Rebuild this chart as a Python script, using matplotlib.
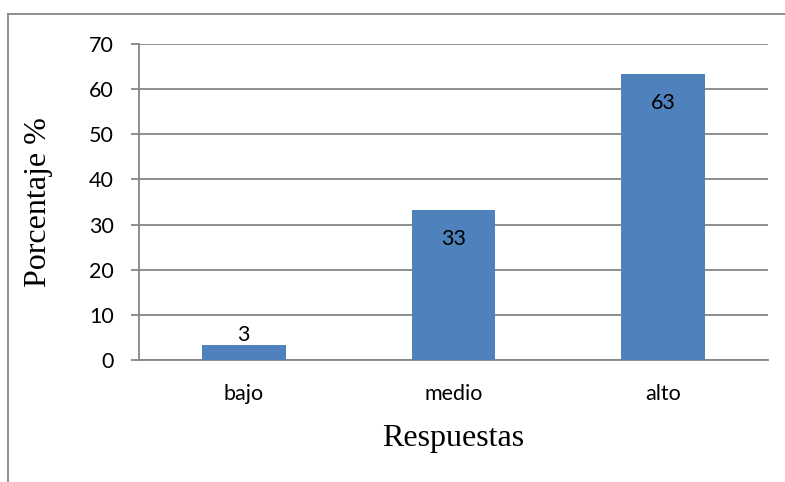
import matplotlib
matplotlib.use("Agg")
import matplotlib.pyplot as plt
from matplotlib.lines import Line2D

categories = ["bajo", "medio", "alto"]
values = [3.33, 33.33, 63.33]
labels = ["3", "33", "63"]
yticks = [0, 10, 20, 30, 40, 50, 60, 70]

W, H = 785, 482
fig = plt.figure(figsize=(W / 100, H / 100), dpi=100)
ax = fig.add_axes([139 / W, 1 - 360 / H, (768 - 139) / W, (360 - 44) / H])

grid_c = "#868686"
bar_c = "#4F81BD"
tick_font = "Lato"
fs = 15.5

x = list(range(len(categories)))
ax.bar(x, values, width=0.4, color=bar_c, zorder=3)
ax.set_xlim(-0.5, len(categories) - 0.5)
ax.set_ylim(0, 70)
ax.set_yticks(yticks)
ax.set_yticklabels([str(t) for t in yticks], fontsize=fs, family=tick_font)
ax.set_xticks(x)
ax.set_xticklabels(categories, fontsize=fs, family=tick_font)
ax.yaxis.grid(True, color=grid_c, linewidth=1.3, zorder=0)
ax.set_axisbelow(True)
for s in ["top", "right"]:
    ax.spines[s].set_visible(False)
for s in ["left", "bottom"]:
    ax.spines[s].set_color(grid_c)
    ax.spines[s].set_linewidth(1.3)
ax.tick_params(axis="y", length=6, color=grid_c, width=1.3, pad=12)
ax.tick_params(axis="x", length=0, pad=17)

for xi, v, lab in zip(x, values, labels):
    if v < 10:
        ax.annotate(lab, (xi, v), xytext=(0, 0), textcoords="offset points",
                    ha="center", va="bottom", fontsize=fs, family=tick_font)
    else:
        ax.annotate(lab, (xi, v), xytext=(0, -21), textcoords="offset points",
                    ha="center", va="center", fontsize=fs, family=tick_font)

ax.set_ylabel("Porcentaje %", fontsize=23, family="Liberation Serif", labelpad=26)
ax.set_xlabel("Respuestas", fontsize=23, family="Liberation Serif", labelpad=15)

# outer frame (top and left)
fig.add_artist(Line2D([8 / W, 1], [1 - 14 / H, 1 - 14 / H], color=grid_c, linewidth=1.3, transform=fig.transFigure))
fig.add_artist(Line2D([8 / W, 8 / W], [1 - 14 / H, 0], color=grid_c, linewidth=1.3, transform=fig.transFigure))

fig.savefig("out.png", dpi=100)
